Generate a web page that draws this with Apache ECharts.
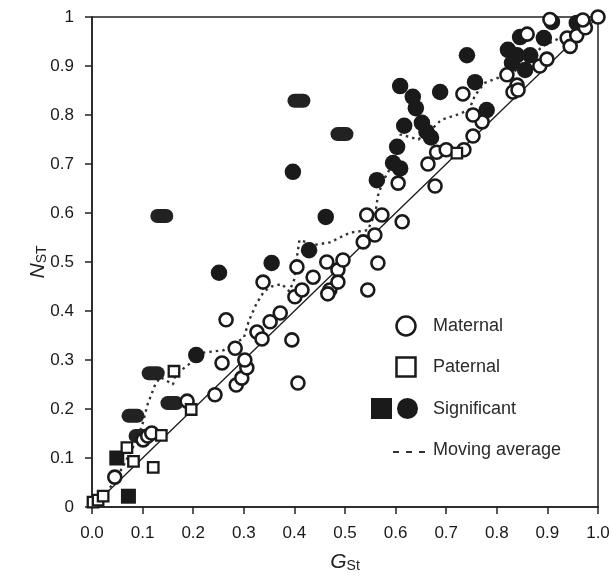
<!DOCTYPE html>
<html>
<head>
<meta charset="utf-8">
<script src="https://cdn.jsdelivr.net/npm/echarts@6/dist/echarts.min.js"></script>
<style>
  html, body { margin: 0; padding: 0; background: #fff; }
  #nstChart { width: 613px; height: 582px; }
</style>
</head>
<body>
<div id="nstChart"></div>
<script>
// tick values for both axes
const ticks = [0, 0.1, 0.2, 0.3, 0.4, 0.5, 0.6, 0.7, 0.8, 0.9, 1]

// maternal loci [Gst, Nst] - open circles
const maternal = [
  [0.045, 0.061], [0.101, 0.137], [0.110, 0.145], [0.118, 0.151],
  [0.188, 0.216], [0.243, 0.229], [0.285, 0.249], [0.296, 0.263],
  [0.306, 0.284], [0.302, 0.300], [0.257, 0.294], [0.283, 0.324],
  [0.407, 0.253], [0.395, 0.341], [0.265, 0.382], [0.326, 0.357],
  [0.336, 0.343], [0.352, 0.378], [0.372, 0.396], [0.401, 0.429],
  [0.415, 0.443], [0.338, 0.459], [0.405, 0.490], [0.437, 0.469],
  [0.470, 0.443], [0.466, 0.435], [0.486, 0.484], [0.486, 0.459],
  [0.496, 0.504], [0.464, 0.500], [0.545, 0.443], [0.565, 0.498],
  [0.536, 0.541], [0.559, 0.555], [0.543, 0.596], [0.573, 0.596],
  [0.613, 0.582], [0.605, 0.661], [0.678, 0.655], [0.664, 0.700],
  [0.681, 0.724], [0.700, 0.729], [0.735, 0.729], [0.753, 0.757],
  [0.771, 0.786], [0.753, 0.800], [0.733, 0.843], [0.820, 0.882],
  [0.840, 0.861], [0.832, 0.847], [0.842, 0.851], [0.885, 0.900],
  [0.899, 0.914], [0.860, 0.965], [0.905, 0.995], [0.939, 0.957],
  [0.945, 0.940], [0.958, 0.962], [0.975, 0.978], [0.970, 0.994],
  [1.000, 1.000]
]

// paternal loci - open squares
const paternal = [
  [0.002, 0.010], [0.012, 0.014], [0.022, 0.022], [0.069, 0.121],
  [0.082, 0.093], [0.121, 0.081], [0.137, 0.146], [0.162, 0.277],
  [0.196, 0.199], [0.721, 0.722]
]

// significant loci - filled circles
const sigCircle = [
  [0.206, 0.310], [0.251, 0.478], [0.355, 0.498], [0.397, 0.684],
  [0.429, 0.524], [0.462, 0.592], [0.563, 0.667], [0.595, 0.702],
  [0.609, 0.691], [0.603, 0.735], [0.617, 0.778], [0.652, 0.784],
  [0.661, 0.766], [0.670, 0.754], [0.609, 0.859], [0.634, 0.837],
  [0.640, 0.814], [0.688, 0.847], [0.741, 0.922], [0.757, 0.867],
  [0.780, 0.810], [0.822, 0.933], [0.840, 0.922], [0.866, 0.922],
  [0.830, 0.906], [0.856, 0.892], [0.846, 0.959], [0.893, 0.957],
  [0.909, 0.990], [0.958, 0.988]
]

// significant paternal loci - filled squares
const sigSquare = [[0.049, 0.100], [0.072, 0.022]]

// overlapping significant pairs, drawn as a pill
const sigPill = [
  [0.081, 0.186], [0.095, 0.145], [0.121, 0.273], [0.158, 0.212],
  [0.138, 0.594], [0.409, 0.829], [0.494, 0.761]
]

// moving average trace
const movingAvg = [
  [0.01, 0.01], [0.03, 0.03], [0.06, 0.08], [0.09, 0.14], [0.10, 0.17],
  [0.11, 0.21], [0.125, 0.25], [0.135, 0.265], [0.16, 0.25], [0.165, 0.27],
  [0.19, 0.29], [0.22, 0.315], [0.26, 0.32], [0.30, 0.345], [0.31, 0.38],
  [0.325, 0.415], [0.34, 0.44], [0.355, 0.45], [0.375, 0.455], [0.39, 0.44],
  [0.40, 0.465], [0.405, 0.51], [0.41, 0.545], [0.44, 0.535], [0.47, 0.54],
  [0.49, 0.55], [0.51, 0.56], [0.545, 0.565], [0.56, 0.60], [0.565, 0.635],
  [0.575, 0.665], [0.60, 0.71], [0.61, 0.76], [0.645, 0.75], [0.67, 0.77],
  [0.69, 0.79], [0.72, 0.80], [0.745, 0.81], [0.757, 0.84], [0.775, 0.865],
  [0.80, 0.875], [0.83, 0.885], [0.86, 0.91], [0.89, 0.94], [0.93, 0.96],
  [0.96, 0.98], [1.0, 1.0]
]

// y = x reference
const diagonal = [[0, 0], [1, 1]]

const ink = '#1a1a1a'
const pillPath = 'path://M7,0H16A7,7,0,0,1,16,14H7A7,7,0,0,1,7,0Z'

const chart = echarts.init(document.getElementById('nstChart'))

const axisCommon = {
  type: 'value',
  min: ticks[0],
  max: ticks[ticks.length - 1],
  interval: 0.1,
  nameLocation: 'middle',
  nameMoveOverlap: false,
  axisLine: { show: true, lineStyle: { color: '#222', width: 1.5 } },
  axisTick: { show: true, inside: false, length: 7, lineStyle: { color: '#222', width: 1.5 } },
  splitLine: { show: false },
  nameTextStyle: {
    rich: {
      i: { fontSize: 21, fontStyle: 'italic', color: '#222', lineHeight: 22 },
      s: { fontSize: 14, color: '#222', lineHeight: 14, verticalAlign: 'bottom' }
    }
  }
}

const option = {
  animation: false,
  textStyle: { fontFamily: 'Liberation Sans, Arial, sans-serif' },
  grid: {
    left: 92, right: 15, top: 17, bottom: 75,
    show: true, borderColor: '#222', borderWidth: 1.5, backgroundColor: 'transparent'
  },
  xAxis: Object.assign({}, axisCommon, {
    name: '{i|G}{s|St}',
    nameGap: 44,
    axisLabel: {
      fontSize: 17, color: '#1a1a1a', margin: 18,
      formatter: v => v.toFixed(1)
    }
  }),
  yAxis: Object.assign({}, axisCommon, {
    name: '{i|N}{s|ST}',
    nameGap: 43,
    nameRotate: 90,
    axisLabel: {
      fontSize: 17, color: '#1a1a1a', margin: 18,
      formatter: v => (v === 0 ? '0' : v === 1 ? '1' : v.toFixed(1))
    }
  }),
  series: [
    {
      name: 'diagonal',
      type: 'line',
      data: diagonal,
      symbol: 'none',
      z: 1,
      lineStyle: { color: ink, width: 1.3 }
    },
    {
      name: 'Moving average',
      type: 'line',
      data: movingAvg,
      symbol: 'none',
      z: 2,
      lineStyle: { color: '#333', width: 2.4, type: [2.5, 4] }
    },
    {
      name: 'Significant pair',
      type: 'scatter',
      data: sigPill,
      symbol: pillPath,
      symbolSize: [23, 14],
      z: 3,
      itemStyle: { color: '#222', opacity: 1 }
    },
    {
      name: 'Significant',
      type: 'scatter',
      data: sigCircle,
      symbol: 'circle',
      symbolSize: 16.5,
      z: 3,
      itemStyle: { color: ink, opacity: 1 }
    },
    {
      name: 'Significant paternal',
      type: 'scatter',
      data: sigSquare,
      symbol: 'rect',
      symbolSize: 15,
      z: 3,
      itemStyle: { color: ink, opacity: 1 }
    },
    {
      name: 'Maternal',
      type: 'scatter',
      data: maternal,
      symbol: 'circle',
      symbolSize: 13,
      z: 4,
      itemStyle: { color: '#fff', borderColor: ink, borderWidth: 2.6, opacity: 1 }
    },
    {
      name: 'Paternal',
      type: 'scatter',
      data: paternal,
      symbol: 'rect',
      symbolSize: 10.5,
      z: 5,
      itemStyle: { color: '#fff', borderColor: ink, borderWidth: 2.3, opacity: 1 }
    }
  ],
  // legend box inside the plot
  graphic: [
    { type: 'circle', shape: { cx: 406, cy: 326, r: 9.5 }, style: { fill: '#fff', stroke: ink, lineWidth: 2.5 } },
    { type: 'text', x: 433, y: 326, style: { text: 'Maternal', font: '18px "Liberation Sans", Arial, sans-serif', fill: '#2a2a2a', verticalAlign: 'middle' } },
    { type: 'rect', shape: { x: 396.5, y: 357.5, width: 19, height: 19 }, style: { fill: '#fff', stroke: ink, lineWidth: 2.5 } },
    { type: 'text', x: 433, y: 367, style: { text: 'Paternal', font: '18px "Liberation Sans", Arial, sans-serif', fill: '#2a2a2a', verticalAlign: 'middle' } },
    { type: 'rect', shape: { x: 371, y: 398, width: 21, height: 21 }, style: { fill: ink } },
    { type: 'circle', shape: { cx: 407.5, cy: 408.5, r: 10.5 }, style: { fill: ink } },
    { type: 'text', x: 433, y: 409, style: { text: 'Significant', font: '18px "Liberation Sans", Arial, sans-serif', fill: '#2a2a2a', verticalAlign: 'middle' } },
    { type: 'line', shape: { x1: 393, y1: 452, x2: 425, y2: 452 }, style: { stroke: '#333', lineWidth: 2, lineDash: [6, 7] } },
    { type: 'text', x: 433, y: 450, style: { text: 'Moving average', font: '18px "Liberation Sans", Arial, sans-serif', fill: '#2a2a2a', verticalAlign: 'middle' } }
  ]
}

chart.setOption(option)
</script>
</body>
</html>
